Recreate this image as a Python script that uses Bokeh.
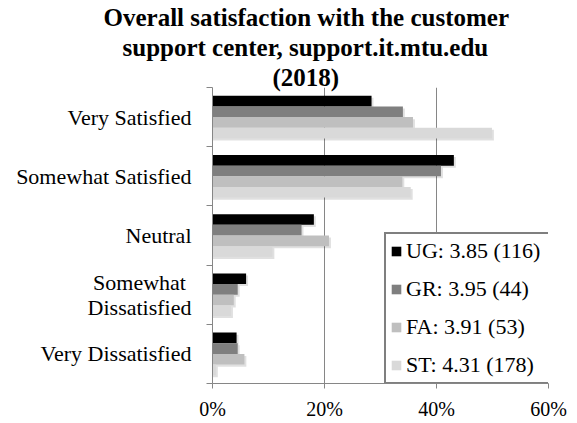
from bokeh.plotting import figure
from bokeh.models import Range1d, FixedTicker, Title, Legend, LegendItem, NumeralTickFormatter
from bokeh.embed import file_html
from bokeh.resources import INLINE

# ---- data ----
categories = ["Very Satisfied", "Somewhat Satisfied", "Neutral",
              "Somewhat Dissatisfied", "Very Dissatisfied"]
tick_labels = ["Very Satisfied", "Somewhat Satisfied", "Neutral",
               "Somewhat \nDissatisfied", "Very Dissatisfied"]
series_names = ["UG: 3.85 (116)", "GR: 3.95 (44)", "FA: 3.91 (53)", "ST: 4.31 (178)"]
ug = [0.284, 0.431, 0.181, 0.060, 0.043]
gr = [0.340, 0.408, 0.159, 0.045, 0.045]
fa = [0.358, 0.339, 0.208, 0.038, 0.057]
st = [0.499, 0.354, 0.107, 0.033, 0.006]
x_ticks = [0.0, 0.2, 0.4, 0.6]
title_lines = ["Overall satisfaction with the customer",
               "support center, support.it.mtu.edu",
               "(2018)"]

series = [ug, gr, fa, st]
colors = ["#000000", "#7f7f7f", "#bfbfbf", "#d9d9d9"]
FONT = "Liberation Serif"

n = len(categories)
centers = [n - i - 0.5 for i in range(n)]
bar_h = 0.18
offsets = [1.5 * bar_h, 0.5 * bar_h, -0.5 * bar_h, -1.5 * bar_h]

p = figure(width=577, height=423, output_backend="svg", toolbar_location=None,
           title=None,
           x_range=Range1d(0, 0.6), y_range=Range1d(0, n),
           min_border_left=212, min_border_right=29, min_border_top=87,
           min_border_bottom=40)
p.outline_line_color = None
p.background_fill_color = "white"
p.border_fill_color = "white"

# shadows
for vals, off in zip(series, offsets):
    ys = [c + off - 0.035 for c in centers]
    p.hbar(y=ys, left=0.0, right=[v + 0.0035 for v in vals], height=bar_h,
           fill_color="#000000", fill_alpha=0.12, line_color=None)

items = []
for vals, off, col, name in zip(series, offsets, colors, series_names):
    ys = [c + off for c in centers]
    r = p.hbar(y=ys, left=0.0, right=vals, height=bar_h,
               fill_color=col, line_color=None)
    items.append(LegendItem(label=name, renderers=[r]))

# grid
p.ygrid.grid_line_color = None
p.xgrid.ticker = FixedTicker(ticks=x_ticks)
p.xgrid.grid_line_color = "#868686"
p.xgrid.grid_line_width = 1

# x axis
p.xaxis.ticker = FixedTicker(ticks=x_ticks)
p.xaxis.formatter = NumeralTickFormatter(format="0%")
p.xaxis.axis_line_color = "#868686"
p.xaxis.major_tick_line_color = "#868686"
p.xaxis.major_tick_out = 5
p.xaxis.major_tick_in = 0
p.xaxis.minor_tick_line_color = None
p.xaxis.major_label_text_font = FONT
p.xaxis.major_label_text_font_size = "20px"
p.xaxis.major_label_text_color = "black"
p.xaxis.major_label_standoff = 9

# y axis
p.yaxis.ticker = FixedTicker(ticks=centers, minor_ticks=list(range(n + 1)))
p.yaxis.major_label_overrides = {c: lab for c, lab in zip(centers, tick_labels)}
p.yaxis.axis_line_color = "#868686"
p.yaxis.major_tick_line_color = None
p.yaxis.major_tick_out = 0
p.yaxis.major_tick_in = 0
p.yaxis.minor_tick_line_color = "#868686"
p.yaxis.minor_tick_out = 6
p.yaxis.minor_tick_in = 0
p.yaxis.major_label_text_font = FONT
p.yaxis.major_label_text_font_size = "22px"
p.yaxis.major_label_text_line_height = 1.0
p.yaxis.major_label_text_color = "black"
p.yaxis.major_label_standoff = 15

# legend
legend = Legend(items=items, location=(172, -1),
                border_line_color="black", border_line_width=2,
                background_fill_color="white", background_fill_alpha=1,
                label_text_font=FONT, label_text_font_size="22px",
                label_text_color="black",
                glyph_width=12, glyph_height=12, label_height=20,
                label_width=141,
                label_standoff=4, spacing=12, padding=4, margin=0)
p.add_layout(legend)

# title: three lines stacked above the plot area (nearest line added first)
title_offsets = [-109, -90, 60]
title_standoffs = [-6, 8, -6]
for t, off, so in reversed(list(zip(title_lines, title_offsets, title_standoffs))):
    p.add_layout(Title(text=t, align="left", offset=off, standoff=so,
                       text_font=FONT, text_font_style="bold",
                       text_font_size="25px", text_color="black"), "above")

open("out.html", "w").write(file_html(p, INLINE))
